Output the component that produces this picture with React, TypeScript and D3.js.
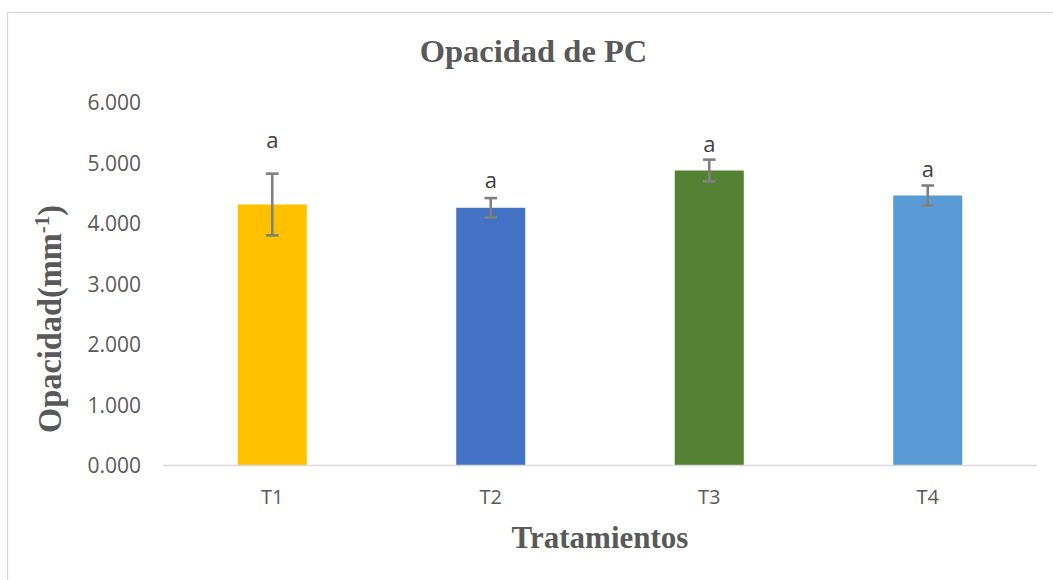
import React from "react";
import * as d3 from "d3";

const categories = ["T1", "T2", "T3", "T4"];
const means = [4.314, 4.26, 4.876, 4.463];
const errors = [0.51, 0.16, 0.18, 0.165];
const letters = ["a", "a", "a", "a"];
const letterAnchors = [5.243, 4.587, 5.187, 4.764];
const colors = ["#FFC000", "#4472C4", "#548235", "#5B9BD5"];
const yTicks = [0, 1, 2, 3, 4, 5, 6];

const W = 1053;
const H = 580;

export default function App() {
  const x = d3
    .scaleBand<string>()
    .domain(categories)
    .range([163, 1037])
    .paddingInner(0.684)
    .paddingOuter(0.342);
  const y = d3.scaleLinear().domain([0, 6]).range([465.5, 102.5]);
  const fmt = d3.format(".3f");
  const bw = x.bandwidth();

  return (
    <svg
      width={W}
      height={H}
      style={{ position: "absolute", left: 0, top: 0, background: "#fff" }}
    >
      <rect x={7.5} y={12.5} width={W + 10} height={H + 10} fill="#fff" stroke="#d9d9d9" strokeWidth={1.3} />
      <text
        x={533.5}
        y={61.7}
        textAnchor="middle"
        fontFamily="'Liberation Serif', 'Times New Roman', serif"
        fontWeight="bold"
        fontSize={32.5}
        fill="#595959"
      >
        Opacidad de PC
      </text>

      {yTicks.map((t) => (
        <text
          key={t}
          x={141}
          y={y(t)}
          dy="0.36em"
          textAnchor="end"
          fontFamily="'Open Sans', sans-serif"
          fontSize={21}
          fill="#595959"
        >
          {fmt(t)}
        </text>
      ))}

      {categories.map((c, i) => (
        <rect key={c} x={x(c)} y={y(means[i])} width={bw} height={y(0) - y(means[i])} fill={colors[i]} />
      ))}

      <line x1={163} x2={1037} y1={y(0)} y2={y(0)} stroke="#d9d9d9" strokeWidth={1.5} />

      {categories.map((c, i) => {
        const cx = (x(c) as number) + bw / 2;
        const hi = y(means[i] + errors[i]);
        const lo = y(means[i] - errors[i]);
        return (
          <g key={c} stroke="#808080" strokeWidth={2.6}>
            <line x1={cx} x2={cx} y1={hi} y2={lo} />
            <line x1={cx - 6.3} x2={cx + 6.3} y1={hi} y2={hi} />
            <line x1={cx - 6.3} x2={cx + 6.3} y1={lo} y2={lo} />
          </g>
        );
      })}

      {categories.map((c, i) => (
        <text
          key={c}
          x={(x(c) as number) + bw / 2}
          y={y(letterAnchors[i])}
          textAnchor="middle"
          fontFamily="'Open Sans', sans-serif"
          fontSize={22}
          fill="#404040"
        >
          {letters[i]}
        </text>
      ))}

      {categories.map((c) => (
        <text
          key={c}
          x={(x(c) as number) + bw / 2}
          y={497}
          dy="0.36em"
          textAnchor="middle"
          fontFamily="'Open Sans', sans-serif"
          fontSize={20}
          fill="#595959"
        >
          {c}
        </text>
      ))}

      <text
        x={600}
        y={548}
        textAnchor="middle"
        fontFamily="'Liberation Serif', 'Times New Roman', serif"
        fontWeight="bold"
        fontSize={31}
        fill="#595959"
      >
        Tratamientos
      </text>

      <text
        transform="translate(61,319) rotate(-90)"
        textAnchor="middle"
        fontFamily="'Liberation Serif', 'Times New Roman', serif"
        fontWeight="bold"
        fontSize={34}
        fill="#595959"
        textLength={228}
        lengthAdjust="spacingAndGlyphs"
      >
        Opacidad(mm<tspan baselineShift="super" fontSize={22}>-1</tspan>)
      </text>
    </svg>
  );
}
